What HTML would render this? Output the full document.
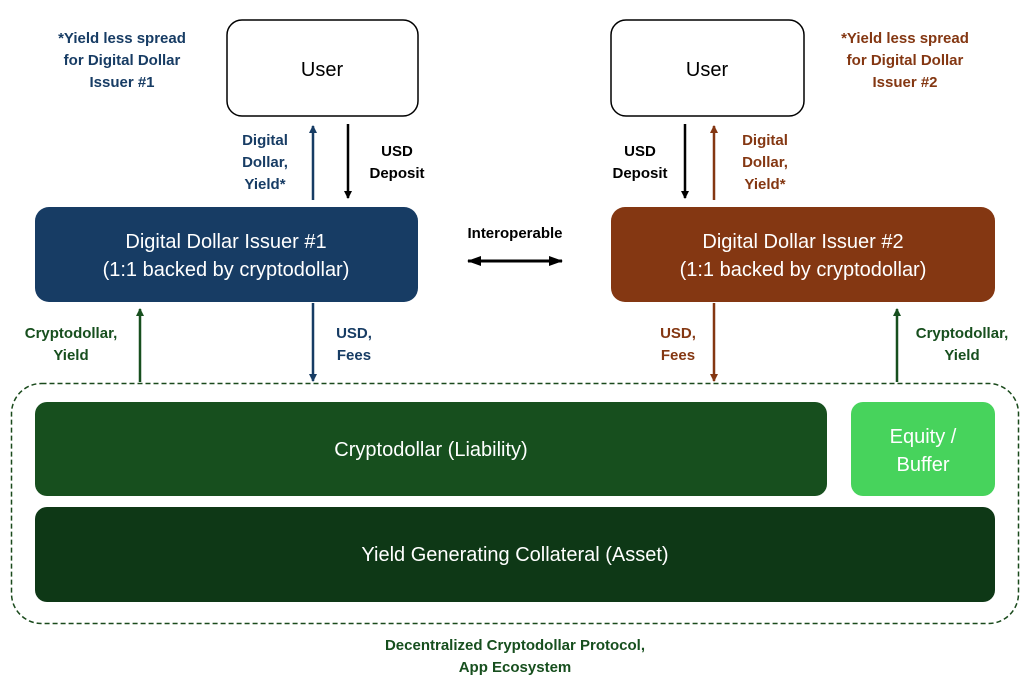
<!DOCTYPE html>
<html><head><meta charset="utf-8"><style>
html,body{margin:0;padding:0;background:#fff;width:1030px;height:684px;overflow:hidden}
svg text{font-family:"Liberation Sans",sans-serif}
.b{font-weight:bold;font-size:15px}
.w{fill:#fff;font-size:20px}
</style></head><body>
<svg width="1030" height="684" viewBox="0 0 1030 684" xmlns="http://www.w3.org/2000/svg">
<defs>
<marker id="ab" markerWidth="8" markerHeight="8" refX="7" refY="4" orient="auto" markerUnits="userSpaceOnUse"><path d="M0,0 L8,4 L0,8 z" fill="#000"/></marker>
<marker id="an" markerWidth="8" markerHeight="8" refX="7" refY="4" orient="auto" markerUnits="userSpaceOnUse"><path d="M0,0 L8,4 L0,8 z" fill="#173c64"/></marker>
<marker id="ao" markerWidth="8" markerHeight="8" refX="7" refY="4" orient="auto" markerUnits="userSpaceOnUse"><path d="M0,0 L8,4 L0,8 z" fill="#843712"/></marker>
<marker id="ag" markerWidth="8" markerHeight="8" refX="7" refY="4" orient="auto" markerUnits="userSpaceOnUse"><path d="M0,0 L8,4 L0,8 z" fill="#174f1e"/></marker>
<marker id="as" markerWidth="14" markerHeight="10" refX="13" refY="5" orient="auto-start-reverse" markerUnits="userSpaceOnUse"><path d="M0,0 L14,5 L0,10 z" fill="#000"/></marker>
</defs>
<rect x="227" y="20" width="191" height="96" rx="15" fill="#fff" stroke="#000" stroke-width="1.5"/>
<rect x="611" y="20" width="193" height="96" rx="15" fill="#fff" stroke="#000" stroke-width="1.5"/>
<text x="322" y="76" text-anchor="middle" font-size="20">User</text>
<text x="707" y="76" text-anchor="middle" font-size="20">User</text>
<rect x="35" y="207" width="383" height="95" rx="14" fill="#173c64"/>
<rect x="611" y="207" width="384" height="95" rx="14" fill="#843712"/>
<text x="226" y="248" text-anchor="middle" class="w">Digital Dollar Issuer #1</text>
<text x="226" y="276" text-anchor="middle" class="w">(1:1 backed by cryptodollar)</text>
<text x="803" y="248" text-anchor="middle" class="w">Digital Dollar Issuer #2</text>
<text x="803" y="276" text-anchor="middle" class="w">(1:1 backed by cryptodollar)</text>
<rect x="11.5" y="383.5" width="1007" height="240" rx="30" fill="none" stroke="#1a4a1c" stroke-width="1.5" stroke-dasharray="5,3"/>
<rect x="35" y="402" width="792" height="94" rx="12" fill="#174f1e"/>
<rect x="851" y="402" width="144" height="94" rx="12" fill="#47d35c"/>
<rect x="35" y="507" width="960" height="95" rx="12" fill="#0e3816"/>
<text x="431" y="456" text-anchor="middle" class="w">Cryptodollar (Liability)</text>
<text x="923" y="443" text-anchor="middle" class="w">Equity /</text>
<text x="923" y="471" text-anchor="middle" class="w">Buffer</text>
<text x="515" y="561" text-anchor="middle" class="w">Yield Generating Collateral (Asset)</text>
<!-- arrows -->
<g stroke-width="2.5" fill="none">
<line x1="313" y1="200" x2="313" y2="126" stroke="#173c64" marker-end="url(#an)"/>
<line x1="348" y1="124" x2="348" y2="198" stroke="#000" marker-end="url(#ab)"/>
<line x1="685" y1="124" x2="685" y2="198" stroke="#000" marker-end="url(#ab)"/>
<line x1="714" y1="200" x2="714" y2="126" stroke="#843712" marker-end="url(#ao)"/>
<line x1="313" y1="303" x2="313" y2="381" stroke="#173c64" marker-end="url(#an)"/>
<line x1="140" y1="382" x2="140" y2="309" stroke="#174f1e" marker-end="url(#ag)"/>
<line x1="714" y1="303" x2="714" y2="381" stroke="#843712" marker-end="url(#ao)"/>
<line x1="897" y1="382" x2="897" y2="309" stroke="#174f1e" marker-end="url(#ag)"/>
<line x1="468" y1="261" x2="562" y2="261" stroke="#000" stroke-width="3" marker-start="url(#as)" marker-end="url(#as)"/>
</g>
<g class="b">
<text x="515" y="238" text-anchor="middle" fill="#000">Interoperable</text>
<g fill="#173c64" text-anchor="middle">
<text x="122" y="43">*Yield less spread</text><text x="122" y="65">for Digital Dollar</text><text x="122" y="87">Issuer #1</text>
<text x="265" y="145">Digital</text><text x="265" y="167">Dollar,</text><text x="265" y="189">Yield*</text>
<text x="354" y="338">USD,</text><text x="354" y="360">Fees</text>
</g>
<g fill="#843712" text-anchor="middle">
<text x="905" y="43">*Yield less spread</text><text x="905" y="65">for Digital Dollar</text><text x="905" y="87">Issuer #2</text>
<text x="765" y="145">Digital</text><text x="765" y="167">Dollar,</text><text x="765" y="189">Yield*</text>
<text x="678" y="338">USD,</text><text x="678" y="360">Fees</text>
</g>
<g fill="#000" text-anchor="middle">
<text x="397" y="156">USD</text><text x="397" y="178">Deposit</text>
<text x="640" y="156">USD</text><text x="640" y="178">Deposit</text>
</g>
<g fill="#174f1e" text-anchor="middle">
<text x="71" y="338">Cryptodollar,</text><text x="71" y="360">Yield</text>
<text x="962" y="338">Cryptodollar,</text><text x="962" y="360">Yield</text>
<text x="515" y="650">Decentralized Cryptodollar Protocol,</text>
<text x="515" y="672">App Ecosystem</text>
</g>
</g>
</svg>
</body></html>
